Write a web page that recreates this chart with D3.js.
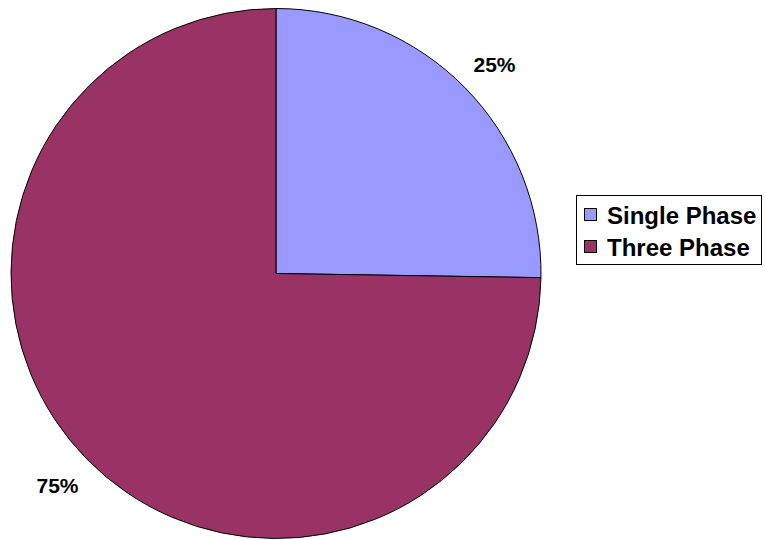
<!DOCTYPE html>
<html><head><meta charset="utf-8">
<script src="https://cdn.jsdelivr.net/npm/d3@7"></script>
<style>body{margin:0;background:#fff}</style>
</head><body>
<svg id="c" width="765" height="540"></svg>
<script>
const categories = ["Single Phase", "Three Phase"];
const values = [25.25, 74.75];
const labels = ["25%", "75%"];
const colors = ["#9999FF", "#993366"];

const svg = d3.select("#c");
const cx = 276, cy = 273.5, r = 265;
const pie = d3.pie().sort(null).value(d => d)(values);
const arc = d3.arc().innerRadius(0).outerRadius(r);
const g = svg.append("g").attr("transform", `translate(${cx},${cy})`);
g.selectAll("path").data(pie).enter().append("path")
  .attr("d", arc).attr("fill", (d, i) => colors[i])
  .attr("stroke", "#000").attr("stroke-width", 1);

const lblPos = [[494.5, 64], [57.5, 485]];
g.selectAll("text.lbl").data(pie).enter().append("text")
  .attr("class", "lbl")
  .attr("x", (d, i) => lblPos[i][0] - cx)
  .attr("y", (d, i) => lblPos[i][1] - cy)
  .attr("text-anchor", "middle").attr("dominant-baseline", "central")
  .attr("font-family", "Liberation Sans, Arial, sans-serif")
  .attr("font-weight", "bold").attr("font-size", 21)
  .text((d, i) => labels[i]);

const lg = svg.append("g");
lg.append("rect").attr("x", 576.5).attr("y", 195.5).attr("width", 185).attr("height", 69)
  .attr("fill", "#fff").attr("stroke", "#000").attr("stroke-width", 1);
categories.forEach((c, i) => {
  const y = 215 + i * 32;
  lg.append("rect").attr("x", 584.5).attr("y", y - 6.5).attr("width", 12).attr("height", 12)
    .attr("fill", colors[i]).attr("stroke", "#000").attr("stroke-width", 1);
  lg.append("text").attr("x", 607).attr("y", y + 8.5)
    .attr("font-family", "Liberation Sans, Arial, sans-serif")
    .attr("font-weight", "bold").attr("font-size", 24).text(c);
});
</script>
</body></html>
